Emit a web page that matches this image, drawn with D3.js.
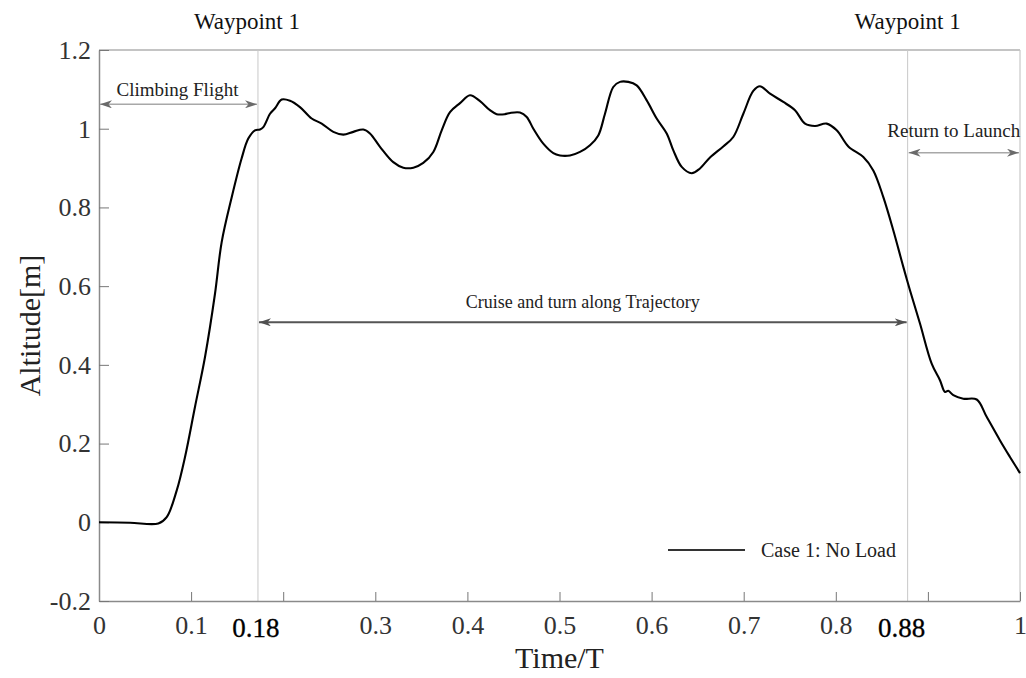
<!DOCTYPE html>
<html>
<head>
<meta charset="utf-8">
<script src="https://cdn.jsdelivr.net/npm/d3@7"></script>
<style>
  html, body { margin: 0; padding: 0; background: #fff; }
  svg { display: block; }
  svg text { font-family: "Liberation Serif", "Times New Roman", serif; }
</style>
</head>
<body>
<svg id="chart" width="1026" height="678"></svg>
<script>
// ---- data ----
const timeT = [0, 0.0337, 0.0644, 0.0735, 0.0844, 0.0934, 0.1042, 0.1151, 0.1259, 0.1332, 0.1441, 0.1549, 0.1621, 0.1694, 0.1748, 0.1784, 0.1857, 0.1911, 0.1984, 0.2074, 0.2182, 0.2309, 0.2418, 0.2544, 0.2653, 0.2761, 0.2870, 0.2942, 0.3051, 0.3195, 0.3304, 0.3413, 0.3521, 0.3630, 0.3721, 0.3811, 0.3920, 0.4028, 0.4137, 0.4245, 0.4318, 0.4408, 0.4463, 0.4571, 0.4644, 0.4716, 0.4824, 0.4933, 0.5005, 0.5114, 0.5223, 0.5331, 0.5421, 0.5494, 0.5584, 0.5657, 0.5747, 0.5838, 0.5947, 0.6055, 0.6164, 0.6236, 0.6327, 0.6435, 0.6525, 0.6634, 0.6778, 0.6887, 0.6996, 0.7104, 0.7177, 0.7286, 0.7430, 0.7557, 0.7666, 0.7774, 0.7901, 0.8010, 0.8136, 0.8299, 0.8407, 0.8516, 0.8624, 0.8733, 0.8806, 0.8914, 0.9041, 0.9131, 0.9186, 0.9221, 0.9276, 0.9384, 0.9530, 0.9638, 0.9783, 0.9891, 1.0];
const altitude = [0.000, -0.001, -0.003, 0.013, 0.081, 0.166, 0.293, 0.420, 0.580, 0.712, 0.826, 0.925, 0.975, 0.996, 0.998, 1.004, 1.038, 1.052, 1.074, 1.071, 1.055, 1.026, 1.013, 0.992, 0.985, 0.992, 0.998, 0.988, 0.954, 0.915, 0.901, 0.901, 0.913, 0.941, 0.996, 1.042, 1.065, 1.085, 1.070, 1.047, 1.037, 1.037, 1.040, 1.041, 1.030, 1.000, 0.962, 0.938, 0.932, 0.932, 0.941, 0.958, 0.983, 1.038, 1.106, 1.119, 1.119, 1.110, 1.072, 1.026, 0.988, 0.945, 0.903, 0.887, 0.899, 0.927, 0.955, 0.979, 1.038, 1.096, 1.108, 1.089, 1.068, 1.047, 1.013, 1.007, 1.013, 0.996, 0.955, 0.928, 0.894, 0.826, 0.742, 0.649, 0.589, 0.505, 0.403, 0.361, 0.331, 0.334, 0.323, 0.314, 0.312, 0.268, 0.208, 0.166, 0.125];

const xTicks = [0, 0.1, 0.2, 0.3, 0.4, 0.5, 0.6, 0.7, 0.8, 0.9, 1];
const xTickLabels = ["0", "0.1", "", "0.3", "0.4", "0.5", "0.6", "0.7", "0.8", "", "1"];
const yTicks = [-0.2, 0, 0.2, 0.4, 0.6, 0.8, 1, 1.2];
const yTickLabels = ["-0.2", "0", "0.2", "0.4", "0.6", "0.8", "1", "1.2"];

const waypointT = [0.1726, 0.878];
const waypointLabels = ["0.18", "0.88"];
const waypointTitles = ["Waypoint 1", "Waypoint 1"];

const phaseNames = ["Climbing Flight", "Cruise and turn along Trajectory", "Return to Launch"];
const phaseStart = [0, 0.1726, 0.878];
const phaseEnd = [0.1726, 0.878, 1];
const phaseAlt = [1.062, 0.508, 0.939];

const legendLabel = "Case 1: No Load";

// ---- drawing ----
const FONT = "'Liberation Serif', 'Times New Roman', serif";
const svg = d3.select("#chart").attr("font-family", FONT);
const x = d3.scaleLinear().domain([0, 1]).range([99, 1020]);
const y = d3.scaleLinear().domain([-0.2, 1.2]).range([601, 50]);
const axisColor = "#8a8a8a";

// arrow markers
const defs = svg.append("defs");
function marker(id, color) {
  defs.append("marker")
    .attr("id", id)
    .attr("viewBox", "0 0 12 8")
    .attr("refX", 12).attr("refY", 4)
    .attr("markerWidth", 12).attr("markerHeight", 8)
    .attr("markerUnits", "userSpaceOnUse")
    .attr("orient", "auto-start-reverse")
    .append("path")
    .attr("d", "M0,0 L12,4 L0,8 L3.5,4 Z")
    .attr("fill", color);
}
marker("arrLight", "#6a6a6a");
marker("arrDark", "#505050");

// frame: top & right
svg.append("line").attr("x1", x(0)).attr("x2", x(1)).attr("y1", y(1.2)).attr("y2", y(1.2))
  .attr("stroke", axisColor).attr("stroke-width", 1.2);
svg.append("line").attr("x1", x(1)).attr("x2", x(1)).attr("y1", y(1.2)).attr("y2", y(-0.2))
  .attr("stroke", "#c8c8c8").attr("stroke-width", 1.2);

// waypoint vertical lines
svg.selectAll(".wp").data(waypointT).enter().append("line")
  .attr("class", "wp")
  .attr("x1", d => x(d)).attr("x2", d => x(d))
  .attr("y1", y(1.2)).attr("y2", y(-0.2))
  .attr("stroke", "#c8c8c8").attr("stroke-width", 1);

// axes
const xAxis = d3.axisBottom(x).tickValues(xTicks)
  .tickFormat((d, i) => xTickLabels[i]).tickSizeInner(-9).tickSizeOuter(0).tickPadding(15);
const gx = svg.append("g").attr("transform", `translate(0,${y(-0.2)})`).call(xAxis)
  .attr("font-family", FONT);
gx.select(".domain").attr("stroke", axisColor).attr("stroke-width", 1.5);
gx.selectAll(".tick line").attr("stroke", "#777").attr("stroke-width", 1);
gx.selectAll(".tick text").attr("fill", "#333").attr("font-size", 26);

const yAxis = d3.axisLeft(y).tickValues(yTicks)
  .tickFormat((d, i) => yTickLabels[i]).tickSizeInner(-10).tickSizeOuter(0).tickPadding(8);
const gy = svg.append("g").attr("transform", `translate(${x(0)},0)`).call(yAxis)
  .attr("font-family", FONT);
gy.select(".domain").attr("stroke", axisColor).attr("stroke-width", 1.5);
gy.selectAll(".tick line").attr("stroke", "#777").attr("stroke-width", 1);
gy.selectAll(".tick text").attr("fill", "#333").attr("font-size", 26);

// waypoint tick labels
svg.selectAll(".wpl").data(waypointT).enter().append("text")
  .attr("x", (d, i) => x(d) - (i === 0 ? 2 : 6)).attr("y", y(-0.2) + 36)
  .attr("text-anchor", "middle").attr("font-size", 27).attr("fill", "#000")
  .attr("stroke", "#000").attr("stroke-width", 0.3)
  .text((d, i) => waypointLabels[i]);

// waypoint titles
svg.selectAll(".wpt").data(waypointT).enter().append("text")
  .attr("x", (d, i) => x(d) - (i === 0 ? 11 : 0)).attr("y", 29)
  .attr("text-anchor", "middle").attr("font-size", 23).attr("fill", "#111")
  .text((d, i) => waypointTitles[i]);

// axis titles
svg.append("text").attr("x", x(0.5)).attr("y", 668)
  .attr("text-anchor", "middle").attr("font-size", 30).attr("fill", "#222").text("Time/T");
svg.append("text").attr("transform", `translate(40,${y(0.5)}) rotate(-90)`)
  .attr("text-anchor", "middle").attr("font-size", 30).attr("fill", "#222").text("Altitude[m]");

// phase arrows
const phaseStyle = [
  { stroke: "#a8a8a8", w: 1.5, m: "arrLight", fs: 19, dy: -8, dx: -1 },
  { stroke: "#555", w: 2, m: "arrDark", fs: 18, dy: -14, dx: 0 },
  { stroke: "#a8a8a8", w: 1.5, m: "arrLight", fs: 19, dy: -16, dx: -10 }
];
phaseNames.forEach((name, i) => {
  const st = phaseStyle[i];
  svg.append("line")
    .attr("x1", x(phaseStart[i]) + 1).attr("x2", x(phaseEnd[i]) - 1)
    .attr("y1", y(phaseAlt[i])).attr("y2", y(phaseAlt[i]))
    .attr("stroke", st.stroke).attr("stroke-width", st.w)
    .attr("marker-start", `url(#${st.m})`).attr("marker-end", `url(#${st.m})`);
  svg.append("text")
    .attr("x", (x(phaseStart[i]) + x(phaseEnd[i])) / 2 + st.dx)
    .attr("y", y(phaseAlt[i]) + st.dy)
    .attr("text-anchor", "middle").attr("font-size", st.fs).attr("fill", "#222")
    .text(name);
});

// curve
const pts = timeT.map((t, i) => [t, altitude[i]]);
svg.append("path").datum(pts)
  .attr("fill", "none").attr("stroke", "#000").attr("stroke-width", 2.1)
  .attr("stroke-linejoin", "round")
  .attr("d", d3.line().x(d => x(d[0])).y(d => y(d[1])).curve(d3.curveCatmullRom.alpha(0.5)));

// legend
svg.append("line").attr("x1", 668).attr("x2", 745).attr("y1", 550).attr("y2", 550)
  .attr("stroke", "#333").attr("stroke-width", 2.2);
svg.append("text").attr("x", 761).attr("y", 557).attr("font-size", 20).attr("fill", "#222")
  .text(legendLabel);
</script>
</body>
</html>
